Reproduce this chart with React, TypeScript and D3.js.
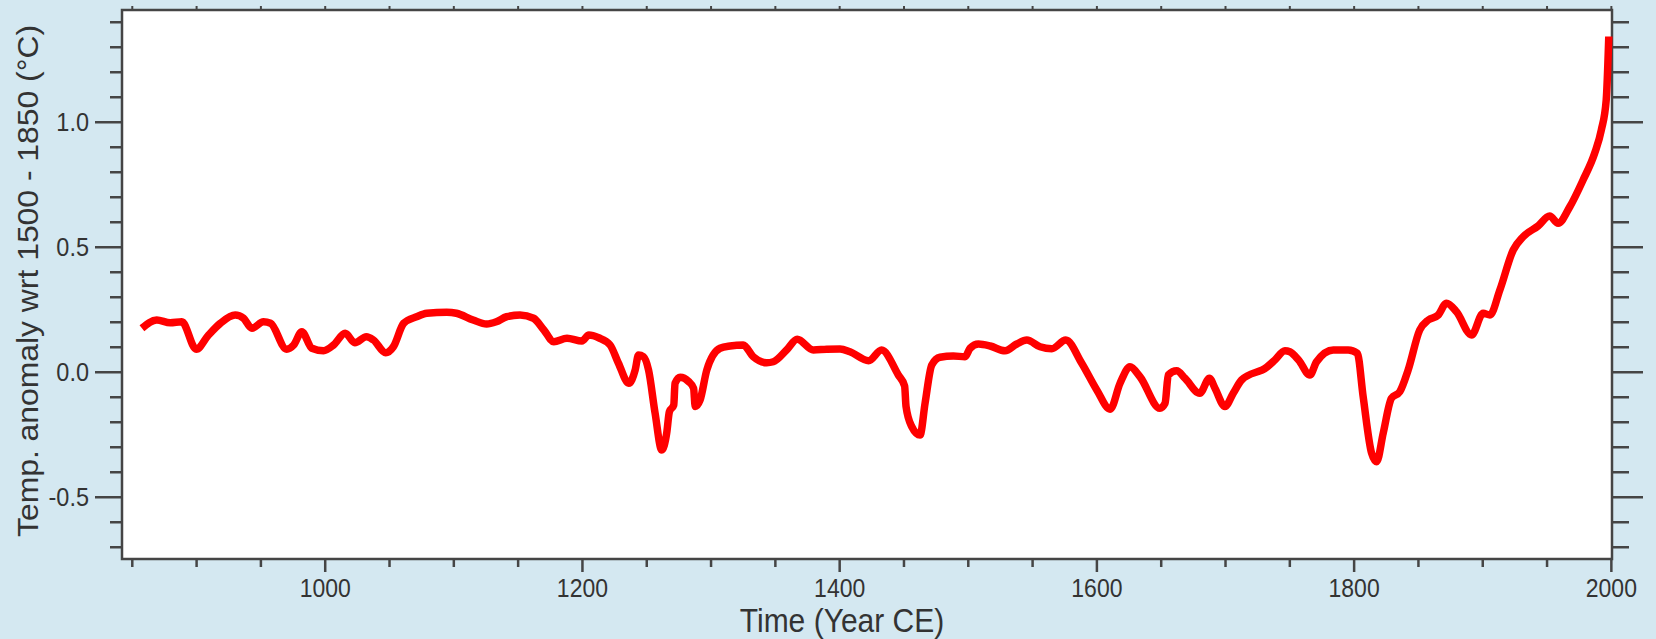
import React from "react";
import * as d3 from "d3";

// Data
const years: number[] = [
  857.5, 869, 879.5, 888.5, 899.7, 909.3, 918.5, 930, 936.5, 943, 952, 957.5, 970, 975.5, 981.8, 989.6,
  998.7, 1006.5, 1015.5, 1023, 1032, 1037.5, 1047, 1053, 1061, 1071, 1079, 1094.5, 1102, 1115, 1125.5,
  1133, 1141, 1151.5, 1162, 1170, 1177.7, 1188, 1199.6, 1205, 1212.6, 1221.5, 1228, 1236, 1241, 1243.6,
  1247.5, 1251.4, 1256.5, 1261.7, 1265.5, 1267.6, 1271, 1272, 1276, 1282.5, 1286.4, 1287.7, 1291.5,
  1296.7, 1307, 1314.8, 1325, 1332.8, 1343.3, 1348.4, 1358.7, 1367, 1379.5, 1389.9, 1400.3, 1408, 1422.5,
  1432.6, 1445.6, 1450.5, 1451.6, 1456, 1462.5, 1466.4, 1471.6, 1478, 1488.4, 1497.5, 1501.4, 1507.9,
  1517, 1528.6, 1537.7, 1545.5, 1555.8, 1564.9, 1575.8, 1588.2, 1599.9, 1610.3, 1618, 1625.7, 1633.5,
  1649, 1653, 1655.5, 1662, 1668.5, 1680, 1687.5, 1691.8, 1699.6, 1706, 1712.5, 1732, 1738.4, 1746.2,
  1750, 1756.8, 1765.6, 1770.8, 1783.8, 1795.4, 1802.5, 1807, 1813.6, 1817.5, 1822.6, 1829, 1835.5,
  1842, 1851, 1857.7, 1865.4, 1871.8, 1879.6, 1891.3, 1900.3, 1905.6, 1913.3, 1923.7, 1931.4, 1943,
  1952, 1958.6, 1967.7, 1978, 1987, 1992.2, 1996, 1998,
];

const anomaly: number[] = [
  0.176, 0.209, 0.198, 0.202, 0.092, 0.149, 0.196, 0.229, 0.216, 0.176, 0.202, 0.196, 0.092, 0.109, 0.162, 0.096,
  0.086, 0.109, 0.156, 0.118, 0.142, 0.129, 0.078, 0.102, 0.196, 0.222, 0.236, 0.24, 0.236, 0.209, 0.193,
  0.202, 0.222, 0.229, 0.216, 0.169, 0.122, 0.136, 0.125, 0.149, 0.138, 0.109, 0.036, -0.044, 0.009, 0.069,
  0.062, 0.009, -0.164, -0.311, -0.244, -0.158, -0.131, -0.044, -0.02, -0.037, -0.064, -0.137, -0.111,
  0.009, 0.096, 0.105, 0.109, 0.062, 0.038, 0.042, 0.089, 0.132, 0.089, 0.092, 0.093, 0.082, 0.046,
  0.089, -0.011, -0.055, -0.137, -0.217, -0.251, -0.124, 0.029, 0.06, 0.065, 0.062, 0.096, 0.113,
  0.105, 0.086, 0.113, 0.129, 0.102, 0.094, 0.129, 0.036, -0.071, -0.148, -0.044, 0.022, -0.018,
  -0.144, -0.124, -0.011, 0.006, -0.024, -0.084, -0.024, -0.064, -0.137, -0.084, -0.031, 0.02, 0.049, 0.086,
  0.082, 0.049, -0.011, 0.042, 0.089, 0.089, 0.076, -0.097, -0.324, -0.358, -0.244, -0.104, -0.078,
  0.009, 0.169, 0.209, 0.229, 0.276, 0.242, 0.149, 0.236, 0.229, 0.329, 0.489, 0.542, 0.585,
  0.625, 0.596, 0.662, 0.769, 0.876, 0.969, 1.089, 1.343,
];

const xTickLabels: number[] = [1000, 1200, 1400, 1600, 1800, 2000];
const yTickLabels: string[] = ["1.0", "0.5", "0.0", "-0.5"];
const xTitle = "Time (Year CE)";
const yTitle = "Temp. anomaly wrt 1500 - 1850 (°C)";

const W = 1656;
const H = 639;
const plot = { left: 122, right: 1612, top: 10, bottom: 559 };
const axisColor = "#454545";
const textColor = "#333333";
const font = "'Liberation Sans', Arial, Helvetica, sans-serif";

export default function App() {
  const x = d3.scaleLinear().domain([842, 2000.5]).range([plot.left, plot.right]);
  const y = d3.scaleLinear().domain([-0.747, 1.449]).range([plot.bottom, plot.top]);

  const pts: [number, number][] = years.map((yr, i) => [yr, anomaly[i]]);
  const line = d3
    .line<[number, number]>()
    .x((d) => x(d[0]))
    .y((d) => y(d[1]))
    .curve(d3.curveMonotoneX);

  const yMinor = d3.range(-7, 15).map((k) => k / 10);
  const xMinor = d3.range(850, 2001, 50);

  return (
    <svg
      width={W}
      height={H}
      style={{ position: "absolute", left: 0, top: 0, display: "block" }}
      fontFamily={font}
    >
      <rect x={0} y={0} width={W} height={H} fill="#d4e8f1" />
      <rect
        x={plot.left}
        y={plot.top}
        width={plot.right - plot.left}
        height={plot.bottom - plot.top}
        fill="#ffffff"
      />
      {/* left & right ticks */}
      {yMinor.map((v) => {
        const major = Math.abs(Math.round(v * 10) % 5) === 0;
        const yy = y(v);
        return (
          <g key={"yt" + v}>
            <line x1={plot.left} x2={plot.left - (major ? 27 : 12)} y1={yy} y2={yy} stroke={axisColor} strokeWidth={2.5} />
            <line x1={plot.right} x2={plot.right + (major ? 31 : 17)} y1={yy} y2={yy} stroke={axisColor} strokeWidth={2.5} />
          </g>
        );
      })}
      {/* bottom & top ticks */}
      {xMinor.map((yr) => {
        const major = yr % 200 === 0;
        const xx = x(yr);
        return (
          <g key={"xt" + yr}>
            <line x1={xx} x2={xx} y1={plot.bottom} y2={plot.bottom + (major ? 13 : 8)} stroke={axisColor} strokeWidth={2.5} />
            <line x1={xx} x2={xx} y1={plot.top} y2={plot.top - 4} stroke={axisColor} strokeWidth={2} />
          </g>
        );
      })}
      <rect
        x={plot.left}
        y={plot.top}
        width={plot.right - plot.left}
        height={plot.bottom - plot.top}
        fill="none"
        stroke={axisColor}
        strokeWidth={2.5}
      />
      {/* data line */}
      <path
        d={line(pts) || ""}
        fill="none"
        stroke="#ff0000"
        strokeWidth={7.5}
        strokeLinejoin="round"
        strokeLinecap="butt"
      />
      {/* x tick labels */}
      {xTickLabels.map((yr) => (
        <text
          key={"xl" + yr}
          transform={`translate(${x(yr)},${plot.bottom + 38}) scale(1,1.1)`}
          textAnchor="middle"
          fontSize={23}
          fill={textColor}
        >
          {yr}
        </text>
      ))}
      {/* y tick labels */}
      {yTickLabels.map((s) => (
        <text
          key={"yl" + s}
          transform={`translate(89,${y(parseFloat(s)) + 9}) scale(1,1.1)`}
          textAnchor="end"
          fontSize={23.5}
          fill={textColor}
        >
          {s}
        </text>
      ))}
      {/* axis titles */}
      <text
        transform={`translate(842,632) scale(1,1.08)`}
        textAnchor="middle"
        fontSize={30}
        fill={textColor}
      >
        {xTitle}
      </text>
      <text
        transform={`translate(38,281) rotate(-90)`}
        textAnchor="middle"
        fontSize={29}
        fill={textColor}
        textLength={512}
        lengthAdjust="spacingAndGlyphs"
      >
        {yTitle}
      </text>
    </svg>
  );
}
